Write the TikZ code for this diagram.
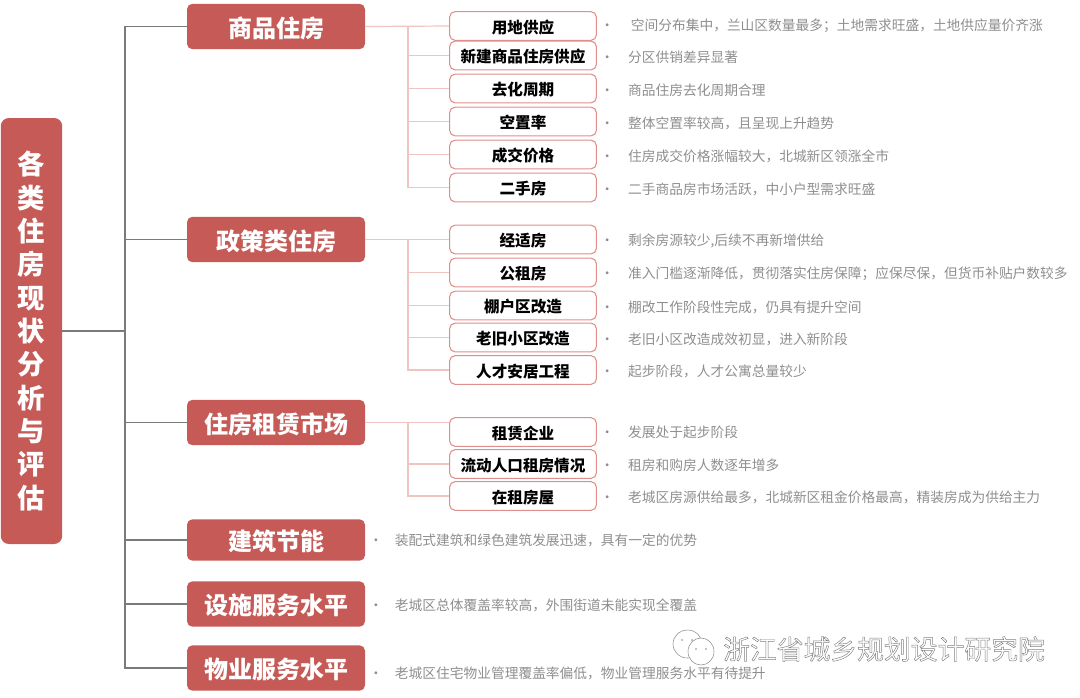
\documentclass[tikz,border=0pt]{standalone}
\usepackage{fontspec}
\setmainfont{Noto Sans CJK SC}
\usetikzlibrary{positioning}
\definecolor{catred}{HTML}{C55A56}
\definecolor{subred}{HTML}{E08E8A}
\definecolor{branchred}{HTML}{F0C4C1}
\definecolor{trunkgray}{HTML}{7A7A7A}
\definecolor{desctext}{HTML}{8E8E8E}

\begin{document}
\begin{tikzpicture}[
    x=0.75pt, y=-0.75pt,
    node distance=2.5pt,
    rootbox/.style={fill=catred, rounded corners=6pt, align=center, inner sep=0pt, minimum width=46pt, minimum height=319.5pt, text=white, font=\fontsize{20.5}{25}\selectfont\bfseries},
    catbox/.style={fill=catred, rounded corners=4pt, align=center, inner sep=0pt, minimum width=133.5pt, minimum height=34pt, text height=18.2pt, text depth=2pt, text=white, font=\fontsize{18}{20}\selectfont\bfseries},
    subbox/.style={draw=subred, line width=0.8pt, fill=white, rounded corners=4pt, align=center, inner sep=0pt, minimum width=110pt, minimum height=21.5pt, text height=12.2pt, text depth=1.3pt, text=black, font=\fontsize{11.7}{13}\selectfont\bfseries},
    desc/.style={inner sep=0pt, yshift=-1.1pt, text=desctext, font=\fontsize{10.3}{12}\selectfont},
    trunkline/.style={draw=trunkgray, line width=1.1pt},
    branchline/.style={draw=branchred, line width=0.9pt},
    bubble/.style={draw=black!45, line width=0.4pt, fill=white},
    markdot/.style={fill=black!45, circle, inner sep=0.5pt}
]

% Useful size
\useasboundingbox (0,0) rectangle (1080,697);

% Root
\node[rootbox] (root) at (31.5,331) {各\\类\\住\\房\\现\\状\\分\\析\\与\\评\\估};

% Categories
\node[catbox] (cat1) at (276,26.5) {商品住房};
\node[catbox] (cat2) at (276,239.5) {政策类住房};
\node[catbox] (cat3) at (276,422.5) {住房租赁市场};
\node[catbox, minimum height=31pt] (cat4) at (276,540) {建筑节能};
\node[catbox] (cat5) at (276,604) {设施服务水平};
\node[catbox] (cat6) at (276,668) {物业服务水平};

% Sub items of the first category
\node[subbox] (sub11) at (523,26) {用地供应};
\node[subbox] (sub12) at (523,55.5) {新建商品住房供应};
\node[subbox] (sub13) at (523,88.5) {去化周期};
\node[subbox] (sub14) at (523,121.5) {空置率};
\node[subbox] (sub15) at (523,154.5) {成交价格};
\node[subbox] (sub16) at (523,187.5) {二手房};

% Sub items of the second category
\node[subbox] (sub21) at (523,239.5) {经适房};
\node[subbox] (sub22) at (523,272.5) {公租房};
\node[subbox] (sub23) at (523,305.5) {棚户区改造};
\node[subbox] (sub24) at (523,337.5) {老旧小区改造};
\node[subbox] (sub25) at (523,370) {人才安居工程};

% Sub items of the third category
\node[subbox] (sub31) at (523,432) {租赁企业};
\node[subbox] (sub32) at (523,464) {流动人口租房情况};
\node[subbox] (sub33) at (523,496) {在租房屋};

% Descriptions
\node[desc, right=of sub11, yshift=1.6pt] (desc11) {•\hspace{12.5pt}空间分布集中，兰山区数量最多；土地需求旺盛，土地供应量价齐涨};
\node[desc, right=of sub12] (desc12) {•\hspace{10.5pt}分区供销差异显著};
\node[desc, right=of sub13] (desc13) {•\hspace{10.5pt}商品住房去化周期合理};
\node[desc, right=of sub14] (desc14) {•\hspace{10.5pt}整体空置率较高，且呈现上升趋势};
\node[desc, right=of sub15] (desc15) {•\hspace{10.5pt}住房成交价格涨幅较大，北城新区领涨全市};
\node[desc, right=of sub16] (desc16) {•\hspace{10.5pt}二手商品房市场活跃，中小户型需求旺盛};
\node[desc, right=of sub21] (desc21) {•\hspace{10.5pt}剩余房源较少,后续不再新增供给};
\node[desc, right=of sub22] (desc22) {•\hspace{10.5pt}准入门槛逐渐降低，贯彻落实住房保障；应保尽保，但货币补贴户数较多};
\node[desc, right=of sub23] (desc23) {•\hspace{10.5pt}棚改工作阶段性完成，仍具有提升空间};
\node[desc, right=of sub24] (desc24) {•\hspace{10.5pt}老旧小区改造成效初显，进入新阶段};
\node[desc, right=of sub25] (desc25) {•\hspace{10.5pt}起步阶段，人才公寓总量较少};
\node[desc, right=of sub31, yshift=1.1pt] (desc31) {•\hspace{10.5pt}发展处于起步阶段};
\node[desc, right=of sub32] (desc32) {•\hspace{10.5pt}租房和购房人数逐年增多};
\node[desc, right=of sub33] (desc33) {•\hspace{10.5pt}老城区房源供给最多，北城新区租金价格最高，精装房成为供给主力};
\node[desc, right=2.75pt of cat4, yshift=1.1pt] (desc4) {•\hspace{9pt}装配式建筑和绿色建筑发展迅速，具有一定的优势};
\node[desc, right=2.75pt of cat5] (desc5) {•\hspace{9pt}老城区总体覆盖率较高，外围街道未能实现全覆盖};
\node[desc, right=2.75pt of cat6, yshift=-2.65pt] (desc6) {•\hspace{9pt}老城区住宅物业管理覆盖率偏低，物业管理服务水平有待提升};

% Trunk on the left
\coordinate (trunk) at (125,331);
\draw[trunkline] (root.east) -- (trunk);
\draw[trunkline] (cat1.west) -- (cat1.west -| trunk) -- (cat6.west -| trunk) -- (cat6.west);
\draw[trunkline] (cat2.west -| trunk) -- (cat2.west);
\draw[trunkline] (cat3.west -| trunk) -- (cat3.west);
\draw[trunkline] (cat4.west -| trunk) -- (cat4.west);
\draw[trunkline] (cat5.west -| trunk) -- (cat5.west);

% Branches to the sub items
\coordinate (branch) at (408,26);
\draw[branchline] (cat1.east) -- (sub11.west);
\draw[branchline] (cat1.east -| branch) -- (sub16.west -| branch) -- (sub16.west);
\draw[branchline] (sub12.west -| branch) -- (sub12.west);
\draw[branchline] (sub13.west -| branch) -- (sub13.west);
\draw[branchline] (sub14.west -| branch) -- (sub14.west);
\draw[branchline] (sub15.west -| branch) -- (sub15.west);

\draw[branchline] (cat2.east) -- (sub21.west);
\draw[branchline] (cat2.east -| branch) -- (sub25.west -| branch) -- (sub25.west);
\draw[branchline] (sub22.west -| branch) -- (sub22.west);
\draw[branchline] (sub23.west -| branch) -- (sub23.west);
\draw[branchline] (sub24.west -| branch) -- (sub24.west);

\draw[branchline] (cat3.east) -- (cat3.east -| sub31.west);
\draw[branchline] (cat3.east -| branch) -- (sub33.west -| branch) -- (sub33.west);
\draw[branchline] (sub32.west -| branch) -- (sub32.west);

% Watermark
\draw[bubble] (687.5,644) ellipse (14.5 and 14);
\draw[bubble] (701,651.5) ellipse (13 and 13.5);
\node[markdot] (dot1) at (682,640) {};
\node[markdot] (dot2) at (692,640) {};
\node[markdot] (dot3) at (696,649) {};
\node[markdot] (dot4) at (706,649) {};
\node[inner sep=0pt, text=black!50, font=\fontsize{20.1}{22}\selectfont] (mark) at (884,649) {\special{pdf:code 1 Tr 0.35 w}浙江省城乡规划设计研究院\special{pdf:code 0 Tr}};

\end{tikzpicture}
\end{document}
